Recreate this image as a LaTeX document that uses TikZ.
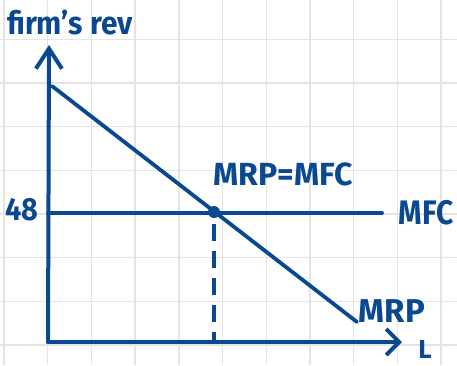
\documentclass[tikz,border=0pt]{standalone}
\usepackage{fontspec}
\setmainfont{Fira Sans}
\usetikzlibrary{arrows.meta}
\definecolor{ink}{HTML}{0A4891}
\definecolor{gridc}{HTML}{E4E4E4}
\tikzset{
  axis/.style={ink, line width=4pt, line cap=round, line join=round},
  curve/.style={ink, line width=3.8pt, line cap=round},
  guide/.style={ink, line width=3.4pt, dash pattern=on 17pt off 10pt},
  lbl/.style={ink, font=\bfseries, inner sep=0pt},
}
\begin{document}
\begin{tikzpicture}[x=1pt,y=-1pt]
\useasboundingbox (0,0) rectangle (457,365);
\fill[white] (0,0) rectangle (457,365);
% grid
\foreach \gx in {4,47.7,91.4,135.1,178.8,222.5,266.2,309.9,353.6,397.3,441} {
  \draw[gridc, line width=1.4pt] (\gx,0) -- (\gx,365);
}
\foreach \gy in {-4.5,39.2,82.9,126.6,170.3,214,257.7,301.4,345.1} {
  \draw[gridc, line width=1.4pt] (0,\gy) -- (457,\gy);
}
% coordinates
\coordinate (O) at (48,342);
\coordinate (ytop) at (49,45);
\coordinate (xend) at (402,342);
\coordinate (mrpA) at (52,86);
\coordinate (mrpB) at (357,322);
\coordinate (mfcA) at (48,213);
\coordinate (mfcB) at (382,213);
\coordinate (E) at (214,212);
\coordinate (Ebase) at (214,342);
% axes
\draw[axis, -{Straight Barb[length=20pt, width=26pt, line width=4pt]}] (O) -- (ytop);
\draw[axis, -{Straight Barb[length=13pt, width=26pt, line width=4pt]}] (O) -- (xend);
% lines
\draw[curve] (mrpA) -- (mrpB);
\draw[curve] (mfcA) -- (mfcB);
\draw[guide] (E) ++(0,12) -- (Ebase);
\fill[ink] (E) circle (6pt);
% labels
\node[lbl, font=\bfseries\fontsize{32}{32}\selectfont, xscale=0.93, anchor=base west] (ylab) at (7,34) {firm's rev};
\node[lbl, font=\bfseries\fontsize{32}{32}\selectfont, xscale=0.9] (v48) at (22,210) {48};
\node[lbl, font=\bfseries\fontsize{32}{32}\selectfont] (eq) at (283,174) {MRP=MFC};
\node[lbl, font=\bfseries\fontsize{34}{34}\selectfont, xscale=0.88] (mfc) at (426,213) {MFC};
\node[lbl, font=\bfseries\fontsize{33}{33}\selectfont] (mrp) at (392,311) {MRP};
\node[lbl, font=\bfseries\fontsize{26}{26}\selectfont] (L) at (425,349) {L};
\end{tikzpicture}
\end{document}
